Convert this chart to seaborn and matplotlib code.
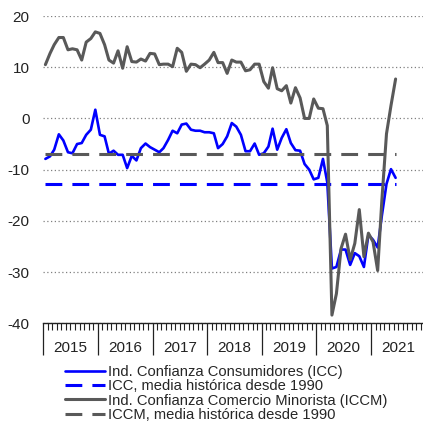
import numpy as np
import pandas as pd
import matplotlib
matplotlib.use("Agg")
import matplotlib.pyplot as plt
import matplotlib.dates as mdates
import seaborn as sns

# ---- data (monthly, Jan 2015 - Jun 2021) ----
icc = [-7.9, -7.4, -6.1, -3.1, -4.3, -6.6, -6.8, -5.0, -4.8, -3.2, -2.2, 1.7,
       -3.2, -3.5, -6.9, -6.3, -7.1, -7.1, -9.7, -7.3, -8.2, -5.8, -4.9, -5.6,
       -6.1, -6.6, -5.8, -4.2, -2.4, -2.9, -1.2, -1.0, -2.2, -2.4, -2.4, -2.7,
       -2.7, -2.9, -5.8, -5.0, -3.5, -0.9, -1.6, -3.2, -6.4, -6.4, -4.9, -7.1,
       -6.8, -5.5, -2.0, -6.1, -3.8, -2.1, -4.8, -6.2, -6.3, -8.9, -10.0, -11.9,
       -11.6, -7.9, -12.5, -29.3, -29.0, -25.6, -25.6, -28.6, -26.3, -26.9, -29.0, -22.7,
       -23.7, -25.2, -19.0, -12.8, -9.9, -11.6]
iccm = [10.5, 12.7, 14.4, 15.8, 15.8, 13.4, 13.6, 13.4, 11.4, 14.9, 15.6, 16.9,
        16.6, 14.4, 11.4, 10.8, 13.2, 9.8, 14.0, 11.1, 11.0, 11.6, 11.2, 12.7,
        12.6, 10.5, 10.6, 10.6, 10.1, 13.7, 12.9, 9.2, 10.6, 10.5, 9.9, 10.6,
        11.4, 12.9, 10.9, 10.9, 8.8, 11.4, 11.0, 11.0, 9.3, 9.5, 10.6, 10.6,
        7.2, 5.9, 9.9, 5.8, 5.4, 6.4, 3.0, 6.0, 4.0, 0.0, 0.0, 3.8,
        2.0, 1.9, -1.4, -38.4, -34.2, -25.4, -22.6, -27.6, -24.4, -17.8, -27.0, -22.4,
        -24.1, -29.7, -16.0, -3.0, 2.5, 7.7]
icc_media = -12.8
iccm_media = -6.9
years = [2015, 2016, 2017, 2018, 2019, 2020, 2021]
labels = ["Ind. Confianza Consumidores (ICC)",
          "ICC, media histórica desde 1990",
          "Ind. Confianza Comercio Minorista (ICCM)",
          "ICCM, media histórica desde 1990"]

fechas = pd.date_range("2015-01-01", periods=len(icc), freq="MS") + pd.Timedelta(days=14)
df = pd.DataFrame({"fecha": fechas, "icc": icc, "iccm": iccm,
                   "icc_media": np.full(len(icc), icc_media),
                   "iccm_media": np.full(len(icc), iccm_media)})

sns.set_theme(style="white")
plt.rcParams["font.family"] = ["Liberation Sans", "DejaVu Sans"]
plt.rcParams["axes.unicode_minus"] = False

fig = plt.figure(figsize=(4.23, 4.25), dpi=100)
W, H = 423, 425
x0, x1, ytop, ybot = 43.3, 425.5, 16.0, 323.3
ax = fig.add_axes([x0 / W, (H - ybot) / H, (x1 - x0) / W, (ybot - ytop) / H])

blue = "#0000FF"
gray = "#595959"
dash = (5.5, 3.3)
sns.lineplot(data=df, x="fecha", y="icc_media", ax=ax, color=blue, lw=2.2,
             label=labels[1]).lines[-1].set_dashes(dash)
sns.lineplot(data=df, x="fecha", y="icc", ax=ax, color=blue, lw=1.9, label=labels[0])
sns.lineplot(data=df, x="fecha", y="iccm_media", ax=ax, color=gray, lw=2.2,
             label=labels[3]).lines[-1].set_dashes(dash)
sns.lineplot(data=df, x="fecha", y="iccm", ax=ax, color=gray, lw=2.2, label=labels[2])

ax.set_ylim(-40, 20)
ax.set_yticks([-40, -30, -20, -10, 0, 10, 20])
ax.set_xlim(pd.Timestamp("2015-01-01"), pd.Timestamp("2022-01-01"))
ax.xaxis.set_major_locator(mdates.YearLocator())
ax.xaxis.set_minor_locator(mdates.MonthLocator())
ax.xaxis.set_major_formatter(plt.NullFormatter())
ax.tick_params(axis="x", which="major", direction="out", length=23, width=0.9,
               color="#222222", bottom=True)
ax.tick_params(axis="x", which="minor", direction="out", length=5, width=0.8,
               color="#222222", bottom=True)
ax.tick_params(axis="y", length=0, pad=10, labelsize=11, labelcolor="#222222")
ax.set_xlabel("")
ax.set_ylabel("")
for s in ["top", "right", "left"]:
    ax.spines[s].set_visible(False)
ax.spines["bottom"].set_color("#222222")
ax.spines["bottom"].set_linewidth(1.0)
ax.yaxis.grid(True, linestyle=(0, (1, 2)), color="#808080", lw=0.9)
ax.set_axisbelow(True)

trans = ax.get_xaxis_transform()
for yv in years:
    ax.text(pd.Timestamp(f"{yv}-07-02"), -0.08, str(yv), transform=trans,
            ha="center", va="center", fontsize=11, color="#222222")

h, l = ax.get_legend_handles_labels()
d = dict(zip(l, h))
ax.get_legend().remove()
fig.legend([d[k] for k in labels], labels, loc="upper left",
           bbox_to_anchor=(65 / W, 1 - 365 / H), frameon=False, fontsize=10.6,
           handlelength=2.75, handletextpad=0.2, labelspacing=0.02,
           borderaxespad=0, borderpad=0)

fig.savefig("out.png", dpi=100)
